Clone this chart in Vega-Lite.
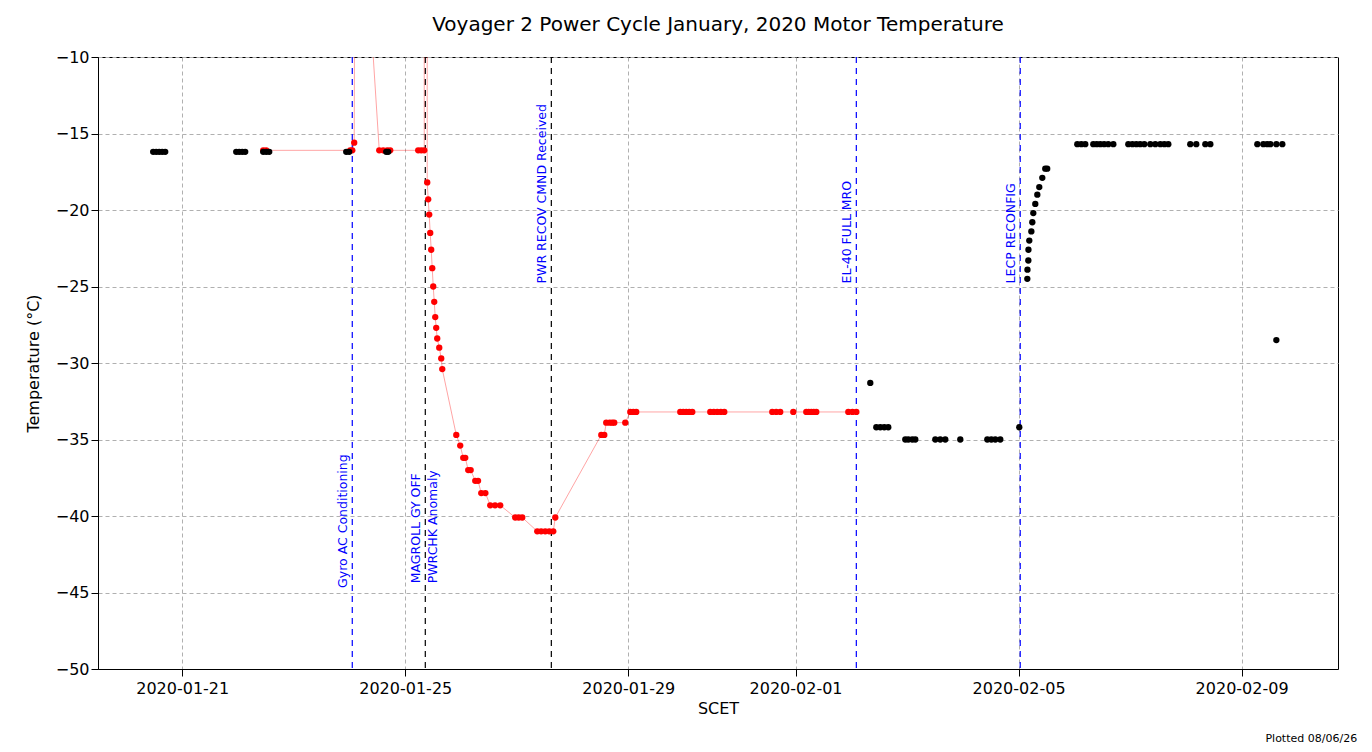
{
  "$schema": "https://vega.github.io/schema/vega-lite/v6.json",
  "autosize": "none",
  "width": 1240,
  "height": 612,
  "padding": {"left": 98, "top": 57, "right": 34, "bottom": 83},
  "config": {
    "font": "DejaVu Sans",
    "view": {"stroke": "black", "strokeWidth": 1},
    "axis": {"labelFontSize": 16, "titleFontSize": 16, "labelColor": "black", "titleColor": "black", "titleFontWeight": "normal", "domainColor": "black", "tickColor": "black", "gridDash": [4, 3], "gridColor": "#b0b0b0", "tickSize": 7}
  },
  "title": {"text": "Voyager 2 Power Cycle January, 2020 Motor Temperature", "fontSize": 20, "fontWeight": "normal", "offset": 14},
  "datasets": {
    "temps": [
      {"t": "2020-01-20T11:30", "v": -16.2, "s": "E"},
      {"t": "2020-01-20T12:48", "v": -16.2, "s": "E"},
      {"t": "2020-01-20T14:05", "v": -16.2, "s": "E"},
      {"t": "2020-01-20T15:23", "v": -16.2, "s": "E"},
      {"t": "2020-01-20T16:41", "v": -16.2, "s": "E"},
      {"t": "2020-01-21T23:15", "v": -16.2, "s": "E"},
      {"t": "2020-01-22T00:32", "v": -16.2, "s": "E"},
      {"t": "2020-01-22T01:50", "v": -16.2, "s": "E"},
      {"t": "2020-01-22T03:07", "v": -16.2, "s": "E"},
      {"t": "2020-01-22T10:52", "v": -16.2, "s": "E"},
      {"t": "2020-01-22T12:09", "v": -16.2, "s": "E"},
      {"t": "2020-01-22T13:27", "v": -16.2, "s": "E"},
      {"t": "2020-01-23T22:36", "v": -16.2, "s": "E"},
      {"t": "2020-01-23T23:53", "v": -16.2, "s": "E"},
      {"t": "2020-01-24T15:49", "v": -16.2, "s": "E"},
      {"t": "2020-01-24T16:40", "v": -16.2, "s": "E"},
      {"t": "2020-02-02T08:10", "v": -31.3, "s": "E"},
      {"t": "2020-02-02T10:46", "v": -34.2, "s": "E"},
      {"t": "2020-02-02T12:29", "v": -34.2, "s": "E"},
      {"t": "2020-02-02T14:12", "v": -34.2, "s": "E"},
      {"t": "2020-02-02T15:55", "v": -34.2, "s": "E"},
      {"t": "2020-02-02T23:15", "v": -35, "s": "E"},
      {"t": "2020-02-03T00:32", "v": -35, "s": "E"},
      {"t": "2020-02-03T02:15", "v": -35, "s": "E"},
      {"t": "2020-02-03T03:33", "v": -35, "s": "E"},
      {"t": "2020-02-03T12:10", "v": -35, "s": "E"},
      {"t": "2020-02-03T14:18", "v": -35, "s": "E"},
      {"t": "2020-02-03T16:27", "v": -35, "s": "E"},
      {"t": "2020-02-03T22:55", "v": -35, "s": "E"},
      {"t": "2020-02-04T10:33", "v": -35, "s": "E"},
      {"t": "2020-02-04T12:16", "v": -35, "s": "E"},
      {"t": "2020-02-04T13:59", "v": -35, "s": "E"},
      {"t": "2020-02-04T16:08", "v": -35, "s": "E"},
      {"t": "2020-02-05T00:18", "v": -34.2, "s": "E"},
      {"t": "2020-02-05T03:46", "v": -24.5, "s": "E"},
      {"t": "2020-02-05T03:50", "v": -23.9, "s": "E"},
      {"t": "2020-02-05T04:12", "v": -23.3, "s": "E"},
      {"t": "2020-02-05T04:15", "v": -22.6, "s": "E"},
      {"t": "2020-02-05T04:37", "v": -22.0, "s": "E"},
      {"t": "2020-02-05T05:30", "v": -21.4, "s": "E"},
      {"t": "2020-02-05T05:55", "v": -20.8, "s": "E"},
      {"t": "2020-02-05T06:21", "v": -20.2, "s": "E"},
      {"t": "2020-02-05T07:12", "v": -19.6, "s": "E"},
      {"t": "2020-02-05T08:04", "v": -19.0, "s": "E"},
      {"t": "2020-02-05T08:55", "v": -18.5, "s": "E"},
      {"t": "2020-02-05T10:13", "v": -17.9, "s": "E"},
      {"t": "2020-02-05T11:30", "v": -17.3, "s": "E"},
      {"t": "2020-02-05T12:20", "v": -17.3, "s": "E"},
      {"t": "2020-02-06T01:17", "v": -15.7, "s": "E"},
      {"t": "2020-02-06T03:00", "v": -15.7, "s": "E"},
      {"t": "2020-02-06T04:43", "v": -15.7, "s": "E"},
      {"t": "2020-02-06T08:10", "v": -15.7, "s": "E"},
      {"t": "2020-02-06T09:40", "v": -15.7, "s": "E"},
      {"t": "2020-02-06T11:11", "v": -15.7, "s": "E"},
      {"t": "2020-02-06T12:50", "v": -15.7, "s": "E"},
      {"t": "2020-02-06T14:37", "v": -15.7, "s": "E"},
      {"t": "2020-02-06T16:48", "v": -15.7, "s": "E"},
      {"t": "2020-02-06T23:15", "v": -15.7, "s": "E"},
      {"t": "2020-02-07T01:00", "v": -15.7, "s": "E"},
      {"t": "2020-02-07T02:41", "v": -15.7, "s": "E"},
      {"t": "2020-02-07T04:20", "v": -15.7, "s": "E"},
      {"t": "2020-02-07T06:08", "v": -15.7, "s": "E"},
      {"t": "2020-02-07T08:43", "v": -15.7, "s": "E"},
      {"t": "2020-02-07T10:52", "v": -15.7, "s": "E"},
      {"t": "2020-02-07T13:01", "v": -15.7, "s": "E"},
      {"t": "2020-02-07T14:45", "v": -15.7, "s": "E"},
      {"t": "2020-02-07T16:27", "v": -15.7, "s": "E"},
      {"t": "2020-02-08T01:55", "v": -15.7, "s": "E"},
      {"t": "2020-02-08T04:30", "v": -15.7, "s": "E"},
      {"t": "2020-02-08T08:24", "v": -15.7, "s": "E"},
      {"t": "2020-02-08T10:33", "v": -15.7, "s": "E"},
      {"t": "2020-02-09T06:47", "v": -15.7, "s": "E"},
      {"t": "2020-02-09T09:22", "v": -15.7, "s": "E"},
      {"t": "2020-02-09T11:00", "v": -15.7, "s": "E"},
      {"t": "2020-02-09T12:23", "v": -15.7, "s": "E"},
      {"t": "2020-02-09T14:58", "v": -15.7, "s": "E"},
      {"t": "2020-02-09T17:32", "v": -15.7, "s": "E"},
      {"t": "2020-02-09T14:58", "v": -28.5, "s": "E"},
      {"t": "2020-01-22T10:52", "v": -16.1, "s": "J"},
      {"t": "2020-01-22T12:09", "v": -16.1, "s": "J"},
      {"t": "2020-01-24T00:18", "v": -16.1, "s": "J"},
      {"t": "2020-01-24T01:12", "v": -16.1, "s": "J"},
      {"t": "2020-01-24T02:02", "v": -15.6, "s": "J"},
      {"t": "2020-01-24T02:28", "v": 8.3, "s": "J"},
      {"t": "2020-01-24T12:49", "v": -16.1, "s": "J"},
      {"t": "2020-01-24T14:31", "v": -16.1, "s": "J"},
      {"t": "2020-01-24T16:15", "v": -16.1, "s": "J"},
      {"t": "2020-01-24T17:32", "v": -16.1, "s": "J"},
      {"t": "2020-01-25T05:35", "v": -16.1, "s": "J"},
      {"t": "2020-01-25T06:53", "v": -16.1, "s": "J"},
      {"t": "2020-01-25T08:11", "v": -16.1, "s": "J"},
      {"t": "2020-01-25T08:25", "v": 300, "s": "J"},
      {"t": "2020-01-25T09:02", "v": 300, "s": "J"},
      {"t": "2020-01-25T09:28", "v": -18.2, "s": "J"},
      {"t": "2020-01-25T09:53", "v": -19.3, "s": "J"},
      {"t": "2020-01-25T10:19", "v": -20.3, "s": "J"},
      {"t": "2020-01-25T10:45", "v": -21.5, "s": "J"},
      {"t": "2020-01-25T11:11", "v": -22.6, "s": "J"},
      {"t": "2020-01-25T11:37", "v": -23.8, "s": "J"},
      {"t": "2020-01-25T12:03", "v": -25, "s": "J"},
      {"t": "2020-01-25T12:29", "v": -26, "s": "J"},
      {"t": "2020-01-25T12:55", "v": -27, "s": "J"},
      {"t": "2020-01-25T13:20", "v": -27.7, "s": "J"},
      {"t": "2020-01-25T13:46", "v": -28.4, "s": "J"},
      {"t": "2020-01-25T14:38", "v": -29, "s": "J"},
      {"t": "2020-01-25T15:30", "v": -29.7, "s": "J"},
      {"t": "2020-01-25T15:56", "v": -30.4, "s": "J"},
      {"t": "2020-01-25T21:58", "v": -34.7, "s": "J"},
      {"t": "2020-01-25T23:40", "v": -35.4, "s": "J"},
      {"t": "2020-01-26T00:58", "v": -36.2, "s": "J"},
      {"t": "2020-01-26T01:50", "v": -36.2, "s": "J"},
      {"t": "2020-01-26T03:07", "v": -37, "s": "J"},
      {"t": "2020-01-26T04:10", "v": -37, "s": "J"},
      {"t": "2020-01-26T06:08", "v": -37.7, "s": "J"},
      {"t": "2020-01-26T07:20", "v": -37.7, "s": "J"},
      {"t": "2020-01-26T08:43", "v": -38.5, "s": "J"},
      {"t": "2020-01-26T10:30", "v": -38.5, "s": "J"},
      {"t": "2020-01-26T12:36", "v": -39.3, "s": "J"},
      {"t": "2020-01-26T14:40", "v": -39.3, "s": "J"},
      {"t": "2020-01-26T16:53", "v": -39.3, "s": "J"},
      {"t": "2020-01-26T23:21", "v": -40.1, "s": "J"},
      {"t": "2020-01-27T00:50", "v": -40.1, "s": "J"},
      {"t": "2020-01-27T02:22", "v": -40.1, "s": "J"},
      {"t": "2020-01-27T08:50", "v": -41, "s": "J"},
      {"t": "2020-01-27T10:30", "v": -41, "s": "J"},
      {"t": "2020-01-27T12:16", "v": -41, "s": "J"},
      {"t": "2020-01-27T14:00", "v": -41, "s": "J"},
      {"t": "2020-01-27T15:43", "v": -41, "s": "J"},
      {"t": "2020-01-27T16:35", "v": -40.1, "s": "J"},
      {"t": "2020-01-28T12:23", "v": -34.7, "s": "J"},
      {"t": "2020-01-28T13:41", "v": -34.7, "s": "J"},
      {"t": "2020-01-28T14:31", "v": -33.9, "s": "J"},
      {"t": "2020-01-28T16:00", "v": -33.9, "s": "J"},
      {"t": "2020-01-28T17:07", "v": -33.9, "s": "J"},
      {"t": "2020-01-28T17:58", "v": -33.9, "s": "J"},
      {"t": "2020-01-28T22:43", "v": -33.9, "s": "J"},
      {"t": "2020-01-29T00:52", "v": -33.2, "s": "J"},
      {"t": "2020-01-29T02:10", "v": -33.2, "s": "J"},
      {"t": "2020-01-29T03:26", "v": -33.2, "s": "J"},
      {"t": "2020-01-29T22:23", "v": -33.2, "s": "J"},
      {"t": "2020-01-29T23:40", "v": -33.2, "s": "J"},
      {"t": "2020-01-30T00:58", "v": -33.2, "s": "J"},
      {"t": "2020-01-30T02:15", "v": -33.2, "s": "J"},
      {"t": "2020-01-30T03:33", "v": -33.2, "s": "J"},
      {"t": "2020-01-30T11:18", "v": -33.2, "s": "J"},
      {"t": "2020-01-30T12:48", "v": -33.2, "s": "J"},
      {"t": "2020-01-30T14:18", "v": -33.2, "s": "J"},
      {"t": "2020-01-30T15:50", "v": -33.2, "s": "J"},
      {"t": "2020-01-30T17:20", "v": -33.2, "s": "J"},
      {"t": "2020-01-31T13:59", "v": -33.2, "s": "J"},
      {"t": "2020-01-31T15:40", "v": -33.2, "s": "J"},
      {"t": "2020-01-31T17:25", "v": -33.2, "s": "J"},
      {"t": "2020-01-31T23:02", "v": -33.2, "s": "J"},
      {"t": "2020-02-01T04:38", "v": -33.2, "s": "J"},
      {"t": "2020-02-01T05:40", "v": -33.2, "s": "J"},
      {"t": "2020-02-01T06:47", "v": -33.2, "s": "J"},
      {"t": "2020-02-01T07:50", "v": -33.2, "s": "J"},
      {"t": "2020-02-01T08:56", "v": -33.2, "s": "J"},
      {"t": "2020-02-01T22:43", "v": -33.2, "s": "J"},
      {"t": "2020-02-02T00:30", "v": -33.2, "s": "J"},
      {"t": "2020-02-02T02:10", "v": -33.2, "s": "J"}
    ],
    "events": [
      {"t": "2020-01-24T01:12", "label": "Gyro AC Conditioning", "c": "blue", "ly": -44.7, "side": "L"},
      {"t": "2020-01-25T08:38", "label": "MAGROLL GY OFF", "c": "black", "ly": -44.4, "side": "L"},
      {"t": "2020-01-25T08:38", "label": "PWRCHK Anomaly", "c": "none", "ly": -44.4, "side": "R"},
      {"t": "2020-01-27T14:53", "label": "PWR RECOV CMND Received", "c": "black", "ly": -24.8, "side": "L"},
      {"t": "2020-02-02T02:10", "label": "EL-40 FULL MRO", "c": "blue", "ly": -24.8, "side": "L"},
      {"t": "2020-02-05T00:43", "label": "LECP  RECONFIG", "c": "blue", "ly": -24.8, "side": "L"}
    ]
  },
  "layer": [
    {
      "data": {"name": "events"},
      "transform": [{"filter": "datum.c != 'none'"}],
      "mark": {"type": "rule", "strokeDash": [6, 5], "strokeWidth": 1.2},
      "encoding": {
        "x": {"field": "t", "type": "temporal"},
        "color": {"field": "c", "type": "nominal", "scale": null, "legend": null}
      }
    },
    {
      "data": {"name": "events"},
      "transform": [{"filter": "datum.side == 'L'"}],
      "mark": {"type": "text", "angle": 270, "align": "left", "baseline": "bottom", "dy": -2, "color": "blue", "fontSize": 12.5},
      "encoding": {
        "x": {"field": "t", "type": "temporal"},
        "y": {"field": "ly", "type": "quantitative"},
        "text": {"field": "label"}
      }
    },
    {
      "data": {"name": "events"},
      "transform": [{"filter": "datum.side == 'R'"}],
      "mark": {"type": "text", "angle": 270, "align": "left", "baseline": "top", "dy": 2, "color": "blue", "fontSize": 12.5},
      "encoding": {
        "x": {"field": "t", "type": "temporal"},
        "y": {"field": "ly", "type": "quantitative"},
        "text": {"field": "label"}
      }
    },
    {
      "data": {"name": "temps"},
      "transform": [{"filter": "datum.s == 'J'"}],
      "mark": {"type": "line", "color": "red", "strokeWidth": 0.6, "opacity": 0.6, "clip": true},
      "encoding": {
        "x": {"field": "t", "type": "temporal"},
        "y": {"field": "v", "type": "quantitative"}
      }
    },
    {
      "data": {"name": "temps"},
      "mark": {"type": "point", "filled": true, "opacity": 1, "size": 40, "clip": true},
      "encoding": {
        "x": {
          "field": "t", "type": "temporal", "title": "SCET",
          "scale": {"domain": ["2020-01-19T11:45", "2020-02-10T17:30"]},
          "axis": {
            "values": ["2020-01-21T00:00", "2020-01-25T00:00", "2020-01-29T00:00", "2020-02-01T00:00", "2020-02-05T00:00", "2020-02-09T00:00"],
            "format": "%Y-%m-%d", "grid": true, "labelPadding": 4, "titleFontWeight": "normal"
          }
        },
        "y": {
          "field": "v", "type": "quantitative", "title": "Temperature (°C)",
          "scale": {"domain": [-50, -10], "nice": false, "zero": false},
          "axis": {"values": [-50, -45, -40, -35, -30, -25, -20, -15, -10], "grid": true, "labelExpr": "replace(datum.label, '-', '−')", "titlePadding": 14}
        },
        "color": {
          "field": "s", "type": "nominal",
          "scale": {"domain": ["J", "E"], "range": ["red", "black"]},
          "legend": {
            "title": null, "orient": "none", "legendX": 978, "legendY": 8,
            "labelExpr": "datum.value == 'J' ? 'JPL E-459 LP MTRT' : 'Motor Temp from ENGs'",
            "labelFontSize": 14, "symbolType": "circle", "symbolSize": 40,
            "fillColor": "white", "strokeColor": "#cccccc", "padding": 8, "cornerRadius": 3, "rowPadding": 6
          }
        },
        "order": {"field": "s", "sort": "descending"}
      }
    },
    {
      "data": {"values": [{"t": "2020-02-10T06:00", "v": -54.6, "txt": "Plotted 08/06/26"}]},
      "mark": {"type": "text", "fontSize": 11, "align": "center", "clip": false},
      "encoding": {
        "x": {"field": "t", "type": "temporal"},
        "y": {"field": "v", "type": "quantitative"},
        "text": {"field": "txt"}
      }
    }
  ]
}
